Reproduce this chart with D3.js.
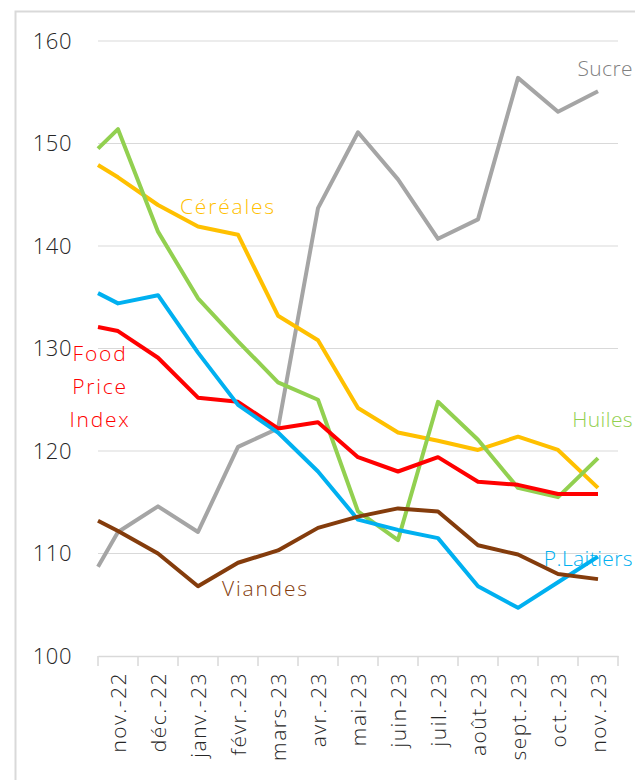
<!DOCTYPE html>
<html>
<head>
<meta charset="utf-8">
<script src="https://cdn.jsdelivr.net/npm/d3@7"></script>
<style>
  body { margin: 0; background: #fff; }
  svg { display: block; font-family: "Open Sans", sans-serif; font-weight: 300; }
</style>
</head>
<body>
<svg id="chart" width="635" height="780"></svg>
<script>
// months shown on the axis
const months = ['nov.-22', 'déc.-22', 'janv.-23', 'févr.-23', 'mars-23', 'avr.-23', 'mai-23',
  'juin-23', 'juil.-23', 'août-23', 'sept.-23', 'oct.-23', 'nov.-23'];

const yTicks = [100, 110, 120, 130, 140, 150, 160];

// FAO indices, one array per series
const sucre     = [112.1, 114.6, 112.1, 120.4, 122.2, 143.7, 151.1, 146.5, 140.7, 142.6, 156.4, 153.1, 155.1];
const cereales  = [146.7, 144.0, 141.9, 141.1, 133.2, 130.8, 124.2, 121.8, 121.0, 120.1, 121.4, 120.1, 116.4];
const huiles    = [151.4, 141.4, 134.9, 130.7, 126.7, 125.0, 114.1, 111.3, 124.8, 121.1, 116.4, 115.5, 119.3];
const foodIndex = [131.7, 129.1, 125.2, 124.8, 122.2, 122.8, 119.4, 118.0, 119.4, 117.0, 116.7, 115.8, 115.8];
const laitiers  = [134.4, 135.2, 129.6, 124.5, 121.8, 118.0, 113.3, 112.3, 111.5, 106.8, 104.7, 107.2, 109.7];
const viandes   = [112.2, 110.0, 106.8, 109.1, 110.3, 112.5, 113.6, 114.4, 114.1, 110.8, 109.9, 108.0, 107.5];

// value where each line enters at the left edge of the plot (previous month is cut off)
const entryValues = [108.7, 147.9, 149.5, 132.1, 135.4, 113.2];

const seriesNames = ['Sucre', 'Céréales', 'Huiles', 'Food Price Index', 'P.Laitiers', 'Viandes'];
const seriesValues = [sucre, cereales, huiles, foodIndex, laitiers, viandes];
const seriesColors = ['#a5a5a5', '#ffc000', '#92d050', '#ff0000', '#00b0f0', '#843c0c'];

const svg = d3.select('#chart');

// outer chart frame
svg.append('rect')
  .attr('x', 15.5).attr('y', 11.5)
  .attr('width', 660).attr('height', 820)
  .attr('fill', 'none')
  .attr('stroke', '#d9d9d9')
  .attr('stroke-width', 2);

const plotLeft = 98, plotRight = 618, plotTop = 41, plotBottom = 656;

const x = d3.scaleBand().domain(months).range([plotLeft, plotRight]);
const y = d3.scaleLinear().domain([100, 160]).range([plotBottom, plotTop]);

// gridlines
svg.append('g')
  .selectAll('line')
  .data(yTicks.filter(d => d > 100))
  .join('line')
  .attr('x1', plotLeft).attr('x2', plotRight)
  .attr('y1', d => y(d)).attr('y2', d => y(d))
  .attr('stroke', '#d9d9d9')
  .attr('stroke-width', 1);

// y labels
svg.append('g')
  .selectAll('text')
  .data(yTicks)
  .join('text')
  .attr('x', 72)
  .attr('y', d => y(d))
  .attr('dy', '0.36em')
  .attr('text-anchor', 'end')
  .attr('font-size', 22)
  .attr('letter-spacing', 0.5)
  .attr('fill', '#262626')
  .text(d => d);

// x axis
const xAxis = svg.append('g')
  .attr('transform', `translate(0,${plotBottom})`)
  .call(d3.axisBottom(x).tickSize(0).tickSizeOuter(0));
xAxis.select('.domain').attr('stroke', '#d9d9d9').attr('stroke-width', 1.5);
xAxis.selectAll('.tick text')
  .attr('transform', 'rotate(-90)')
  .attr('text-anchor', 'end')
  .attr('x', -16)
  .attr('y', 0)
  .attr('dy', '0.36em')
  .attr('font-size', 21)
  .attr('font-family', '"Open Sans", sans-serif')
  .attr('font-weight', 300)
  .attr('letter-spacing', 1.5)
  .attr('fill', '#262626');

// tick marks between categories
svg.append('g')
  .selectAll('line')
  .data(months.map(m => x(m)).concat([plotRight]))
  .join('line')
  .attr('x1', d => d).attr('x2', d => d)
  .attr('y1', plotBottom).attr('y2', plotBottom + 10)
  .attr('stroke', '#d9d9d9')
  .attr('stroke-width', 1.5);

// lines
const line = d3.line().x(d => d[0]).y(d => y(d[1]));

seriesValues.forEach((vals, i) => {
  const pts = [[plotLeft, entryValues[i]]].concat(vals.map((v, j) => [x(months[j]) + x.bandwidth() / 2, v]));
  svg.append('path')
    .datum(pts)
    .attr('d', line)
    .attr('fill', 'none')
    .attr('stroke', seriesColors[i])
    .attr('stroke-width', 4)
    .attr('stroke-linejoin', 'round');
});

// series labels
const labels = svg.append('g').attr('font-size', 21).attr('letter-spacing', 1.8);
labels.append('text').attr('x', 180).attr('y', 214).attr('fill', '#ffc000').text('Céréales');
labels.append('text').attr('x', 222).attr('y', 596).attr('fill', '#843c0c').text('Viandes');
// right-hand labels squeezed to stay inside the frame
const rightLabels = labels.append('g').attr('text-anchor', 'end').attr('letter-spacing', 0.4);
rightLabels.append('text').attr('x', 633).attr('y', 76).attr('fill', '#808080').text('Sucre');
rightLabels.append('text').attr('x', 633).attr('y', 427).attr('fill', '#92d050').text('Huiles');
rightLabels.append('text').attr('x', 633).attr('y', 566).attr('fill', '#00b0f0').text('P.Laitiers');
const food = labels.append('text').attr('fill', '#ff0000').attr('text-anchor', 'middle');
['Food', 'Price', 'Index'].forEach((t, i) => {
  food.append('tspan').attr('x', 100).attr('y', 361 + i * 33).text(t);
});
</script>
</body>
</html>
